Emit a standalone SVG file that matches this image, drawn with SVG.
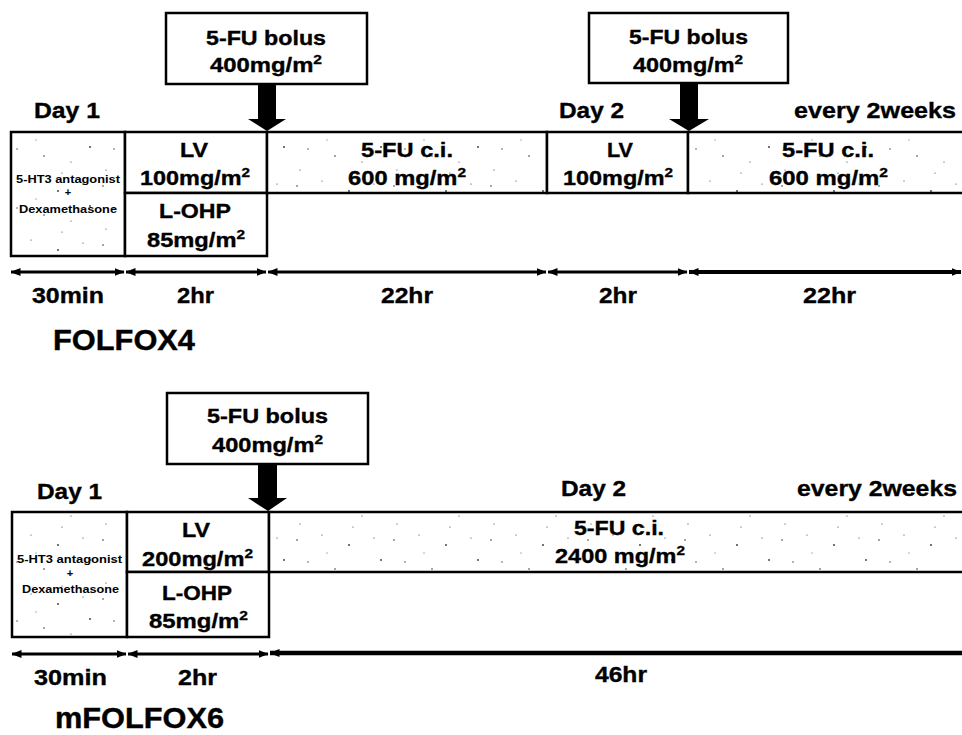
<svg xmlns="http://www.w3.org/2000/svg" width="962" height="735" viewBox="0 0 962 735">
<style>
.t{font-family:"Liberation Sans",Arial,sans-serif;font-weight:bold;fill:#000}
.m{font-size:20px;stroke:#000;stroke-width:0.35}
.s{font-size:11px}
.d{font-size:22px;stroke:#000;stroke-width:0.35}
.h{font-size:30px;stroke:#000;stroke-width:0.4}
.sup{font-size:13px}
.box{fill:#fff;stroke:#000;stroke-width:2.5}
.stip{fill:url(#stip);stroke:#000;stroke-width:2.5}
.tl{stroke:#000;stroke-width:3;fill:none}
.ba{fill:#000;stroke:none}
</style>
<defs>
<marker id="ah" viewBox="0 0 10 8" refX="9.5" refY="4" markerWidth="10" markerHeight="8" markerUnits="userSpaceOnUse" orient="auto-start-reverse">
<path d="M0,0 L10,4 L0,8 z" fill="#000"/>
</marker>
<pattern id="stip" width="97" height="59" patternUnits="userSpaceOnUse">
<rect width="97" height="59" fill="#fff"/>
<g fill="#333">
<circle cx="6" cy="9" r="0.8"/><circle cx="31" cy="4" r="0.6"/><circle cx="58" cy="14" r="0.9"/>
<circle cx="83" cy="7" r="0.6"/><circle cx="17" cy="31" r="0.7"/><circle cx="44" cy="38" r="0.8"/>
<circle cx="71" cy="44" r="0.6"/><circle cx="90" cy="29" r="0.9"/><circle cx="9" cy="52" r="0.6"/>
<circle cx="36" cy="22" r="0.5"/><circle cx="62" cy="55" r="0.6"/>
</g>
</pattern>
</defs>

<!-- FOLFOX4 -->
<g id="bolus1">
<rect class="box" x="166" y="13" width="201" height="71"/>
<text class="t m" x="206" y="45" textLength="120" lengthAdjust="spacingAndGlyphs">5-FU bolus</text>
<text class="t m" x="210" y="72" textLength="112" lengthAdjust="spacingAndGlyphs">400mg/m<tspan class="sup" dy="-8">2</tspan></text>
</g>
<g id="bolus2">
<rect class="box" x="589" y="13" width="199" height="70"/>
<text class="t m" x="629" y="44" textLength="119" lengthAdjust="spacingAndGlyphs">5-FU bolus</text>
<text class="t m" x="633" y="72" textLength="110" lengthAdjust="spacingAndGlyphs">400mg/m<tspan class="sup" dy="-8">2</tspan></text>
</g>
<g id="premed1">
<rect class="stip" x="11" y="132" width="114" height="124"/>
<text class="t s" x="16" y="183" textLength="104" lengthAdjust="spacingAndGlyphs">5-HT3 antagonist</text>
<text class="t s" x="68" y="196" text-anchor="middle">+</text>
<text class="t s" x="19" y="213" textLength="98" lengthAdjust="spacingAndGlyphs">Dexamethasone</text>
</g>
<g id="lv1">
<rect class="box" x="125" y="132" width="142" height="61"/>
<text class="t m" x="180" y="157" textLength="28" lengthAdjust="spacingAndGlyphs">LV</text>
<text class="t m" x="140" y="185" textLength="110" lengthAdjust="spacingAndGlyphs">100mg/m<tspan class="sup" dy="-8">2</tspan></text>
</g>
<g id="lohp1">
<rect class="box" x="125" y="193" width="142" height="63"/>
<text class="t m" x="159" y="218" textLength="72" lengthAdjust="spacingAndGlyphs">L-OHP</text>
<text class="t m" x="147" y="247" textLength="98" lengthAdjust="spacingAndGlyphs">85mg/m<tspan class="sup" dy="-8">2</tspan></text>
</g>
<g id="fuci1">
<rect class="stip" x="267" y="132" width="280" height="61"/>
<text class="t m" x="361" y="157" textLength="92" lengthAdjust="spacingAndGlyphs">5-FU c.i.</text>
<text class="t m" x="348" y="185" textLength="118" lengthAdjust="spacingAndGlyphs">600 mg/m<tspan class="sup" dy="-8">2</tspan></text>
</g>
<g id="lv2">
<rect class="box" x="547" y="132" width="141" height="61"/>
<text class="t m" x="607" y="157" textLength="26" lengthAdjust="spacingAndGlyphs">LV</text>
<text class="t m" x="563" y="185" textLength="110" lengthAdjust="spacingAndGlyphs">100mg/m<tspan class="sup" dy="-8">2</tspan></text>
</g>
<g id="fuci2">
<rect class="stip" x="688" y="132" width="280" height="61"/>
<text class="t m" x="782" y="157" textLength="92" lengthAdjust="spacingAndGlyphs">5-FU c.i.</text>
<text class="t m" x="769" y="185" textLength="119" lengthAdjust="spacingAndGlyphs">600 mg/m<tspan class="sup" dy="-8">2</tspan></text>
</g>
<g id="labels1">
<text class="t d" x="34" y="118" textLength="66" lengthAdjust="spacingAndGlyphs">Day 1</text>
<text class="t d" x="559" y="118" textLength="65" lengthAdjust="spacingAndGlyphs">Day 2</text>
<text class="t d" x="794" y="118" textLength="162" lengthAdjust="spacingAndGlyphs">every 2weeks</text>
<text class="t d" x="32" y="303" textLength="72" lengthAdjust="spacingAndGlyphs">30min</text>
<text class="t d" x="177" y="303" textLength="37" lengthAdjust="spacingAndGlyphs">2hr</text>
<text class="t d" x="381" y="303" textLength="52" lengthAdjust="spacingAndGlyphs">22hr</text>
<text class="t d" x="599" y="303" textLength="38" lengthAdjust="spacingAndGlyphs">2hr</text>
<text class="t d" x="803" y="303" textLength="53" lengthAdjust="spacingAndGlyphs">22hr</text>
<text class="t h" x="53" y="350" textLength="142" lengthAdjust="spacingAndGlyphs">FOLFOX4</text>
</g>

<!-- mFOLFOX6 -->
<g id="bolus3">
<rect class="box" x="167" y="393" width="201" height="71"/>
<text class="t m" x="207" y="423" textLength="121" lengthAdjust="spacingAndGlyphs">5-FU bolus</text>
<text class="t m" x="212" y="452" textLength="111" lengthAdjust="spacingAndGlyphs">400mg/m<tspan class="sup" dy="-8">2</tspan></text>
</g>
<g id="premed2">
<rect class="stip" x="12" y="512" width="115" height="125"/>
<text class="t s" x="17" y="563" textLength="105" lengthAdjust="spacingAndGlyphs">5-HT3 antagonist</text>
<text class="t s" x="70" y="577" text-anchor="middle">+</text>
<text class="t s" x="22" y="593" textLength="97" lengthAdjust="spacingAndGlyphs">Dexamethasone</text>
</g>
<g id="lv3">
<rect class="box" x="127" y="512" width="142" height="60"/>
<text class="t m" x="182" y="537" textLength="28" lengthAdjust="spacingAndGlyphs">LV</text>
<text class="t m" x="142" y="566" textLength="111" lengthAdjust="spacingAndGlyphs">200mg/m<tspan class="sup" dy="-8">2</tspan></text>
</g>
<g id="lohp2">
<rect class="box" x="127" y="572" width="142" height="65"/>
<text class="t m" x="162" y="600" textLength="70" lengthAdjust="spacingAndGlyphs">L-OHP</text>
<text class="t m" x="149" y="628" textLength="99" lengthAdjust="spacingAndGlyphs">85mg/m<tspan class="sup" dy="-8">2</tspan></text>
</g>
<g id="fuci3">
<rect class="stip" x="269" y="512" width="700" height="60"/>
<text class="t m" x="574" y="535" textLength="90" lengthAdjust="spacingAndGlyphs">5-FU c.i.</text>
<text class="t m" x="555" y="563" textLength="130" lengthAdjust="spacingAndGlyphs">2400 mg/m<tspan class="sup" dy="-8">2</tspan></text>
</g>
<g id="labels2">
<text class="t d" x="37" y="499" textLength="65" lengthAdjust="spacingAndGlyphs">Day 1</text>
<text class="t d" x="561" y="496" textLength="65" lengthAdjust="spacingAndGlyphs">Day 2</text>
<text class="t d" x="797" y="496" textLength="160" lengthAdjust="spacingAndGlyphs">every 2weeks</text>
<text class="t d" x="34" y="685" textLength="73" lengthAdjust="spacingAndGlyphs">30min</text>
<text class="t d" x="178" y="685" textLength="39" lengthAdjust="spacingAndGlyphs">2hr</text>
<text class="t d" x="595" y="682" textLength="52" lengthAdjust="spacingAndGlyphs">46hr</text>
<text class="t h" x="55" y="728" textLength="169" lengthAdjust="spacingAndGlyphs">mFOLFOX6</text>
</g>

<g id="connectors">
<polygon class="ba" points="258,84 276,84 276,119 286,119 267,131 248,119 258,119"/>
<polygon class="ba" points="680,83 698,83 698,119 709,119 689,131 669,119 680,119"/>
<polygon class="ba" points="258,464 277,464 277,498 287,498 268,511 248,498 258,498"/>
<line class="tl" x1="11" y1="272" x2="124" y2="272" marker-start="url(#ah)" marker-end="url(#ah)"/>
<line class="tl" x1="126" y1="272" x2="266" y2="272" marker-start="url(#ah)" marker-end="url(#ah)"/>
<line class="tl" x1="268" y1="272" x2="546" y2="272" marker-start="url(#ah)" marker-end="url(#ah)"/>
<line class="tl" x1="548" y1="272" x2="687" y2="272" marker-start="url(#ah)" marker-end="url(#ah)"/>
<line class="tl" x1="689" y1="272" x2="961" y2="272" style="stroke-width:4" marker-start="url(#ah)" marker-end="url(#ah)"/>
<line class="tl" x1="12" y1="654" x2="126" y2="654" marker-start="url(#ah)" marker-end="url(#ah)"/>
<line class="tl" x1="128" y1="654" x2="268" y2="654" marker-start="url(#ah)" marker-end="url(#ah)"/>
<line class="tl" x1="270" y1="653" x2="962" y2="653" style="stroke-width:4.5" marker-start="url(#ah)"/>
</g>
</svg>
